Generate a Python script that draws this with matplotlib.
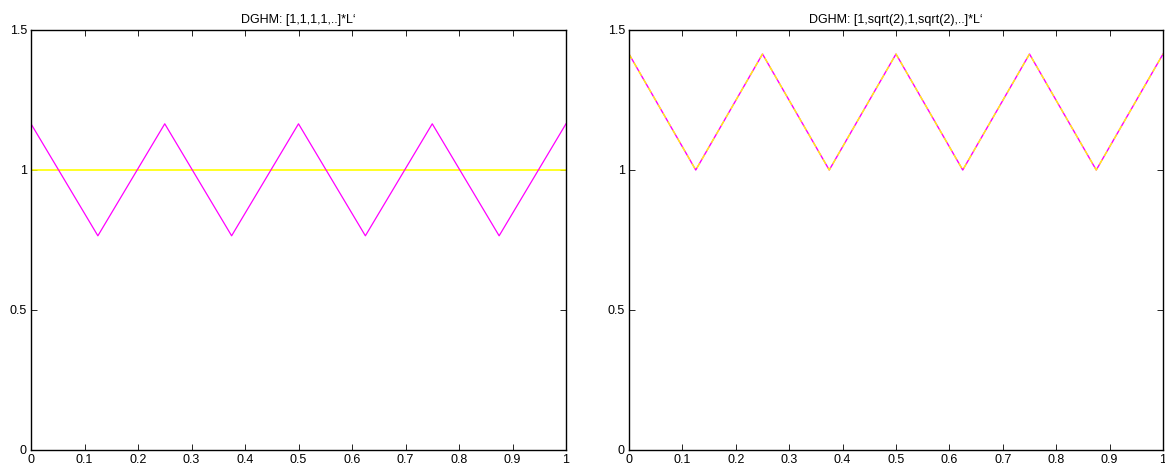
import matplotlib
matplotlib.use("Agg")
import matplotlib.pyplot as plt
import numpy as np

plt.rcParams['font.family'] = ['Liberation Sans', 'DejaVu Sans']

x = [0, 0.125, 0.25, 0.375, 0.5, 0.625, 0.75, 0.875, 1.0]
left_magenta = [1.165, 0.765, 1.165, 0.765, 1.165, 0.765, 1.165, 0.765, 1.165]
left_yellow = [1, 1, 1, 1, 1, 1, 1, 1, 1]
right_magenta = [1.4142, 1, 1.4142, 1, 1.4142, 1, 1.4142, 1, 1.4142]
right_yellow = [1.4142, 1, 1.4142, 1, 1.4142, 1, 1.4142, 1, 1.4142]
titles = ["DGHM: [1,1,1,1,..]*L\u2018", "DGHM: [1,sqrt(2),1,sqrt(2),..]*L\u2018"]
xticks = [0, 0.1, 0.2, 0.3, 0.4, 0.5, 0.6, 0.7, 0.8, 0.9, 1]
xticklabels = ["0", "0.1", "0.2", "0.3", "0.4", "0.5", "0.6", "0.7", "0.8", "0.9", "1"]
yticks = [0, 0.5, 1, 1.5]
yticklabels = ["0", "0.5", "1", "1.5"]

W, H = 1165, 472
fig = plt.figure(figsize=(W/100, H/100), dpi=100)
ax1 = fig.add_axes([31/W, 22/H, 535/W, 420/H])
ax2 = fig.add_axes([629/W, 22/H, 534/W, 420/H])

ax1.plot(x, left_yellow, color='#ffff00', lw=1.2)
ax1.plot(x, left_magenta, color='#ff00ff', lw=0.9)
ax2.plot(x, right_magenta, color='#ff00ff', lw=1.0)
ax2.plot(x, right_yellow, color='#ffff00', lw=1.0, linestyle=(0, (4, 3)))

for ax, t in zip([ax1, ax2], titles):
    ax.set_xlim(0, 1)
    ax.set_ylim(0, 1.5)
    ax.set_xticks(xticks)
    ax.set_xticklabels(xticklabels)
    ax.set_yticks(yticks)
    ax.set_yticklabels(yticklabels)
    ax.tick_params(direction='in', top=True, right=True, labelsize=9, length=4,
                   width=0.6, pad=3, colors='black')
    for s in ax.spines.values():
        s.set_linewidth(1.0)
    ax.set_title(t, fontsize=9, pad=5)

fig.savefig("out.png", dpi=100)
